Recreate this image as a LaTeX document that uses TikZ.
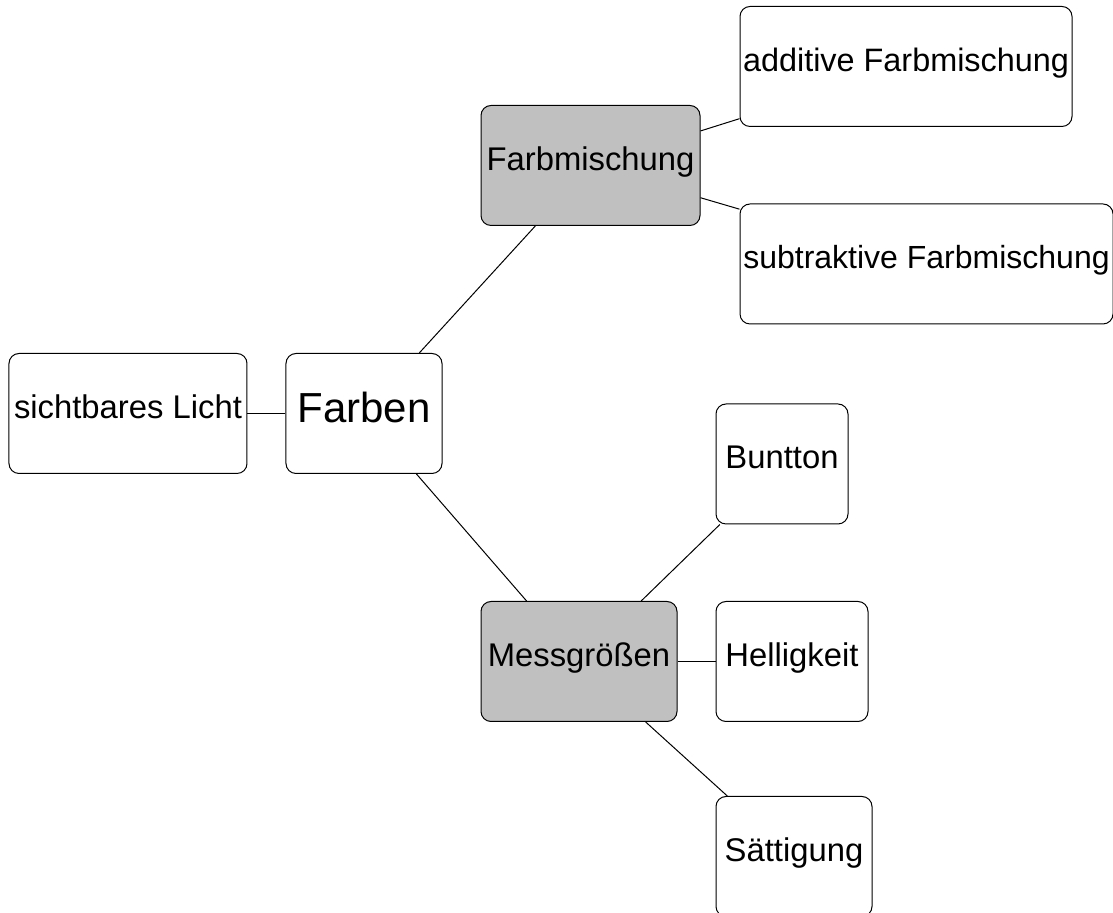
\documentclass[tikz,border=0pt]{standalone}
\usepackage{fontspec}
\setmainfont{Liberation Sans}
\usepackage{tikz}
\usetikzlibrary{positioning}
\definecolor{hellgrau}{RGB}{192,192,192}

\begin{document}
\begin{tikzpicture}[node distance=19pt,
    box/.style={draw,rounded corners=5pt,line width=0.5pt,minimum height=60pt,
                inner xsep=1pt,font=\fontsize{16.4}{19}\selectfont,
                text height=12pt,text depth=7pt},
    grey box/.style={box,fill=hellgrau}]

  \useasboundingbox (-182pt,-249.75pt) rectangle (374.5pt,206.75pt);

  \node[box,minimum width=78pt,font=\fontsize{21}{25}\selectfont,
        text height=15.5pt,text depth=6pt]          (farben)                                        {Farben};
  \node[box,minimum width=119pt]      (licht)    [left=of farben]                                  {sichtbares Licht};
  \node[grey box,minimum width=109.5pt] (mischung) [above right=63.5pt and 19pt of farben]           {Farbmischung};
  \node[grey box,minimum width=98pt]  (mess)     [below right=63.5pt and 19pt of farben]           {Messgrößen};
  \node[box,minimum width=166pt,font=\fontsize{16.2}{19}\selectfont]
                                      (additiv)  [right=19.5pt of mischung,yshift=49.5pt]           {additive Farbmischung};
  \node[box,minimum width=186.5pt,font=\fontsize{16}{19}\selectfont]
                                      (subtrakt) [right=19.5pt of mischung,yshift=-49.25pt]         {subtraktive Farbmischung};
  \node[box,minimum width=66pt]       (buntton)  [right=of mess,yshift=98.75pt]                    {Buntton};
  \node[box,minimum width=76pt]       (hell)     [right=of mess]                                   {Helligkeit};
  \node[box,minimum width=78pt]       (saett)    [right=of mess,yshift=-97.5pt]                    {Sättigung};

  \path[draw,line width=0.5pt]
            (farben) edge (licht)
                     edge (mischung)
                     edge (mess)
            (mischung) edge (additiv)
                       edge (subtrakt)
            (mess) edge (buntton)
                   edge (hell)
                   edge (saett);
\end{tikzpicture}
\end{document}
